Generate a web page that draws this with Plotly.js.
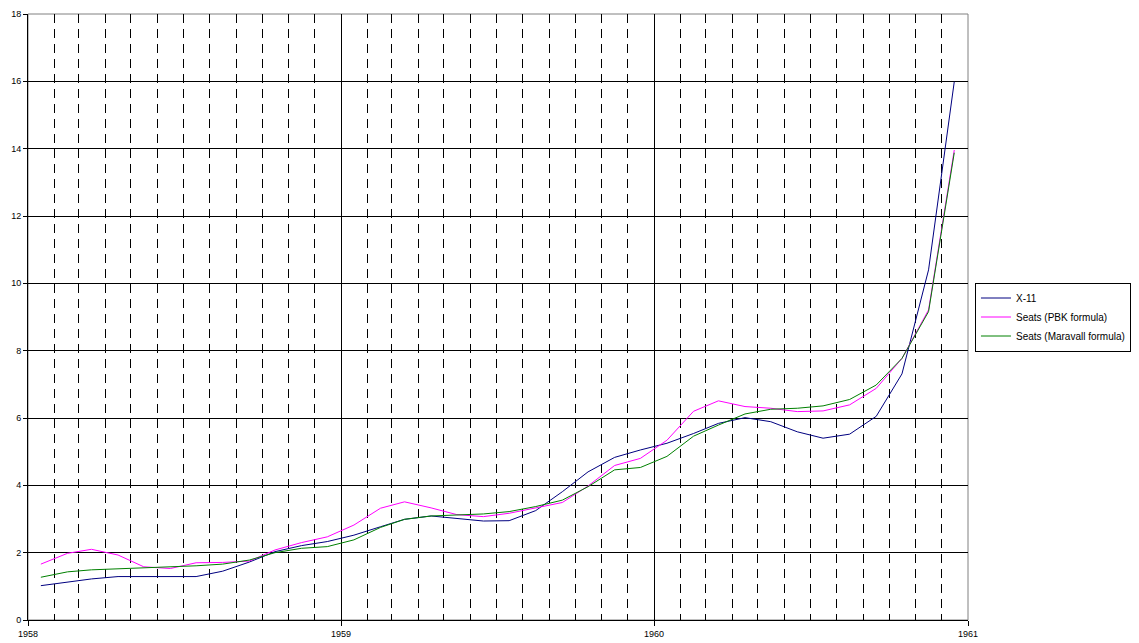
<!DOCTYPE html>
<html>
<head>
<meta charset="utf-8">
<script src="https://cdn.plot.ly/plotly-3.0.1.min.js"></script>
<style>html,body{margin:0;padding:0;background:#fff;}#chart{width:1139px;height:643px;}</style>
</head>
<body>
<div id="chart"></div>
<script>
// Monthly observations, Jan 1958 .. Dec 1960 (plotted mid-month)
const years = [1958, 1959, 1960];
const seriesNames = ["X-11", "Seats (PBK formula)", "Seats (Maravall formula)"];
const x11 = [1.02, 1.13, 1.22, 1.29, 1.29, 1.28, 1.29, 1.45, 1.72, 2.03, 2.21, 2.33,
             2.52, 2.77, 2.99, 3.09, 3.02, 2.94, 2.95, 3.25, 3.81, 4.40, 4.83, 5.05,
             5.25, 5.54, 5.84, 6.01, 5.89, 5.59, 5.40, 5.52, 6.05, 7.31, 10.40, 15.99];
const seatsPBK = [1.66, 1.98, 2.10, 1.93, 1.58, 1.53, 1.70, 1.71, 1.75, 2.08, 2.30, 2.47,
                  2.82, 3.32, 3.51, 3.33, 3.13, 3.07, 3.17, 3.32, 3.49, 3.98, 4.59, 4.80,
                  5.34, 6.20, 6.51, 6.34, 6.29, 6.19, 6.21, 6.39, 6.88, 7.77, 9.21, 13.96];
const seatsMaravall = [1.27, 1.43, 1.49, 1.52, 1.54, 1.56, 1.61, 1.66, 1.78, 2.00, 2.13, 2.18,
                       2.38, 2.75, 2.99, 3.09, 3.13, 3.15, 3.22, 3.37, 3.56, 3.96, 4.46, 4.53,
                       4.86, 5.46, 5.79, 6.12, 6.26, 6.29, 6.36, 6.55, 6.98, 7.77, 9.16, 13.88];
const seriesColors = ["#000080", "#FF00FF", "#008000"];

const months = [];
years.forEach(function (y) {
  for (let m = 1; m <= 12; m++) {
    months.push(y + "-" + (m < 10 ? "0" + m : m) + "-16");
  }
});

const values = [x11, seatsPBK, seatsMaravall];
const traces = values.map(function (v, i) {
  return {
    type: "scatter",
    mode: "lines",
    x: months,
    y: v,
    name: seriesNames[i],
    line: {color: seriesColors[i], width: 1}
  };
});

const font = {family: "Liberation Sans, Arial, sans-serif", color: "#000"};

const layout = {
  width: 1139,
  height: 643,
  margin: {l: 28, r: 171, t: 14, b: 23, pad: 0, autoexpand: false},
  paper_bgcolor: "#fff",
  plot_bgcolor: "#fff",
  font: Object.assign({size: 9}, font),
  showlegend: true,
  legend: {
    x: 1.0074, xanchor: "left",
    y: 0.5, yanchor: "middle",
    bordercolor: "#000", borderwidth: 1, bgcolor: "#fff",
    font: Object.assign({size: 10}, font),
    tracegroupgap: 0,
    itemwidth: 30
  },
  xaxis: {
    type: "date",
    range: ["1958-01-01", "1961-01-01"],
    dtick: "M12",
    tick0: "1958-01-01",
    tickformat: "%Y",
    showgrid: true,
    gridcolor: "#000",
    gridwidth: 1,
    showline: true,
    linecolor: "#000",
    linewidth: 1,
    ticks: "outside",
    ticklen: 5,
    tickcolor: "#000",
    tickfont: Object.assign({size: 9}, font),
    zeroline: false,
    minor: {
      dtick: "M1",
      tick0: "1958-01-01",
      showgrid: true,
      gridcolor: "#000",
      gridwidth: 1,
      griddash: "9px,6px",
      ticks: ""
    }
  },
  yaxis: {
    range: [0, 18],
    dtick: 2,
    tick0: 0,
    showgrid: true,
    gridcolor: "#000",
    gridwidth: 1,
    showline: true,
    linecolor: "#000",
    linewidth: 1,
    ticks: "outside",
    ticklen: 4,
    tickcolor: "#000",
    tickfont: Object.assign({size: 9}, font),
    zeroline: false
  },
  shapes: [{
    type: "rect", xref: "paper", yref: "paper",
    x0: 0, x1: 1, y0: 0, y1: 1,
    line: {color: "#808080", width: 1},
    layer: "below"
  }]
};

Plotly.newPlot("chart", traces, layout, {displayModeBar: false, staticPlot: true});
</script>
</body>
</html>
